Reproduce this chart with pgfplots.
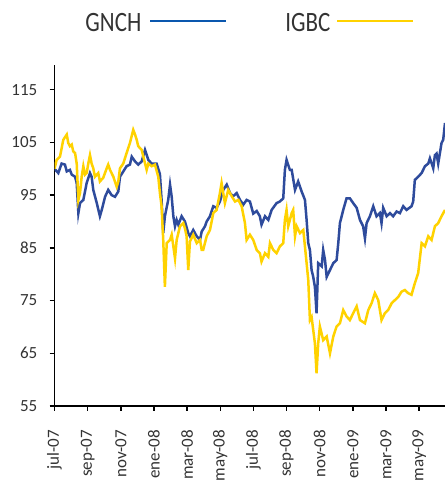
\documentclass[border=0pt]{standalone}
\usepackage{fontspec}
\setmainfont{Carlito}
\newfontfamily\legfont{Carlito}[FakeStretch=0.82]
\usepackage{pgfplots}
\pgfplotsset{compat=1.18}
\definecolor{gblue}{HTML}{2E4B9C}
\definecolor{lblue}{HTML}{0A57AE}
\definecolor{gyel}{HTML}{FFD200}
\definecolor{txt}{HTML}{333333}
\begin{document}
\begin{tikzpicture}[x=1bp,y=1bp]
\useasboundingbox (0,0) rectangle (445,488);
\begin{axis}[
  at={(54.5bp,82bp)}, anchor=south west,
  scale only axis, width=390.5bp, height=341bp,
  xmin=0, xmax=23.56, ymin=55, ymax=119.7,
  axis x line=bottom, axis y line=left,
  axis line style={-, line width=1.6bp, black},
  tick align=outside, major tick length=5bp,
  tick style={line width=1.4bp, black},
  ytick={55,65,75,85,95,105,115},
  xtick={0,2,4,6,8,10,12,14,16,18,20,22},
  xticklabels={jul-07,sep-07,nov-07,ene-08,mar-08,may-08,jul-08,sep-08,nov-08,ene-09,mar-09,may-09},
  xticklabel style={rotate=90, anchor=east, font=\fontsize{17bp}{17bp}\selectfont, text=txt, inner sep=0pt},
  yticklabel style={font=\fontsize{17bp}{17bp}\selectfont, text=txt, inner sep=0pt},
  xticklabel shift=19bp, yticklabel shift=12bp,
  /pgf/number format/assume math mode=true,
  clip=true,
]
\addplot[gblue, line width=2.5bp] coordinates {
(0,100) (0.23,99.2) (0.43,101) (0.63,100.8) (0.74,99.5) (0.93,99.8) (1.04,98.9) (1.24,98.5) (1.34,97.3) (1.44,91.6) (1.54,93.5) (1.74,94.1) (1.94,97.3) (2.14,99.2) (2.24,98.5) (2.34,96) (2.55,93.5) (2.74,91) (2.85,92.2) (3.05,94.7) (3.24,96) (3.45,95) (3.65,94.7) (3.85,95.7) (3.95,98.5) (4.15,99.5) (4.35,100.5) (4.55,100.8) (4.66,102.3) (4.86,101.4) (5.05,100.8) (5.26,101.4) (5.46,103.6) (5.66,101.7) (5.86,101) (6.16,101) (6.36,99) (6.46,94.1) (6.56,87.8) (6.66,91) (6.86,94.1) (6.97,97) (7.07,94.7) (7.17,91) (7.27,89.1) (7.37,90.3) (7.47,89.4) (7.67,91) (7.87,90) (8.07,87.8) (8.17,87.2) (8.37,88.4) (8.58,87.2) (8.78,86.5) (8.88,88.1) (9.08,89.1) (9.18,90) (9.38,91) (9.58,92.9) (9.78,92.6) (9.98,93.8) (10.18,96) (10.39,97) (10.59,95.4) (10.78,94.8) (10.99,95.4) (11.19,94.1) (11.39,93.2) (11.59,94.1) (11.79,93.8) (11.99,91.5) (12.2,92) (12.39,91) (12.49,89.4) (12.7,91) (12.9,90.3) (13.1,92.2) (13.4,93.5) (13.6,93.8) (13.8,94.4) (13.9,99.8) (14.0,101.7) (14.2,99.8) (14.31,99.8) (14.51,96) (14.7,97.6) (14.91,95.7) (15.11,94.1) (15.21,90.3) (15.31,85.9) (15.41,84.6) (15.51,80.8) (15.61,79.5) (15.71,77.6) (15.81,72.6) (15.91,82.1) (16.12,81.5) (16.21,84.6) (16.32,82.7) (16.42,79.5) (16.62,80.8) (16.82,82.1) (17.02,82.7) (17.12,85.9) (17.22,89.7) (17.42,92.2) (17.62,94.4) (17.82,94.4) (18.02,93.5) (18.23,92.6) (18.43,90.3) (18.62,89.1) (18.73,86.8) (18.83,89.7) (19.03,91) (19.23,92.9) (19.43,91) (19.63,91.6) (19.73,89.7) (19.83,92.6) (20.04,91) (20.24,91.6) (20.43,91) (20.64,91.9) (20.84,91.6) (21.04,92.9) (21.24,92.2) (21.54,92.9) (21.64,93.8) (21.74,97.9) (21.94,98.5) (22.15,99.2) (22.35,100.5) (22.55,101) (22.65,102) (22.85,100.1) (22.95,102.6) (23.05,102.9) (23.15,101) (23.35,104.9) (23.45,105.5) (23.56,108.7)
};
\addplot[gyel, line width=2.5bp] coordinates {
(0,100) (0.13,101.7) (0.33,102.3) (0.53,105.5) (0.74,106.5) (0.83,104.9) (0.93,104.3) (1.04,104.6) (1.13,103.3) (1.24,103) (1.34,101) (1.44,94.1) (1.54,95.4) (1.64,98.5) (1.74,100.5) (1.84,98.9) (1.94,99.2) (2.04,101) (2.14,102.6) (2.24,101) (2.34,100.1) (2.44,98.5) (2.64,99.2) (2.74,97.6) (2.94,98.3) (3.15,100.1) (3.24,100.8) (3.35,99.8) (3.55,98.5) (3.75,96.6) (3.85,97.6) (3.95,100.1) (4.15,101) (4.35,103) (4.55,104.9) (4.75,107.4) (4.86,106.5) (4.96,105.5) (5.05,104.3) (5.26,103.6) (5.36,102.3) (5.56,99.8) (5.66,101) (5.86,100.5) (6.06,100.8) (6.26,98.5) (6.36,95.4) (6.46,92.9) (6.56,86.5) (6.66,77.6) (6.77,85.9) (6.97,86.5) (7.07,87.5) (7.17,85.3) (7.27,83) (7.37,86.5) (7.57,89.1) (7.77,89.7) (7.87,88.7) (7.97,87.2) (8.07,80.8) (8.17,86.2) (8.37,87.5) (8.58,85.9) (8.78,86.5) (8.88,84.6) (8.97,84.6) (9.18,87.2) (9.38,88.4) (9.58,91.6) (9.78,92.2) (9.98,95.4) (10.08,97.3) (10.28,93.5) (10.48,96) (10.69,94.8) (10.89,93.8) (11.09,94.1) (11.29,92.9) (11.49,89.7) (11.59,86.5) (11.79,87.5) (11.99,86.5) (12.2,84.6) (12.39,84) (12.49,82.4) (12.7,84) (12.9,83.3) (13.0,85.9) (13.2,84.6) (13.4,84) (13.6,85.3) (13.8,85.9) (13.9,90.3) (14.0,92.2) (14.1,89.1) (14.31,91.6) (14.4,92.2) (14.51,87.2) (14.61,89.1) (14.81,87.8) (15.01,88.4) (15.21,82.1) (15.31,78.9) (15.41,71.3) (15.51,71.9) (15.61,69.4) (15.71,66.9) (15.81,61.2) (15.91,66.9) (16.01,70.1) (16.21,67.5) (16.42,68.2) (16.62,65) (16.82,68.2) (17.02,70.1) (17.22,70.7) (17.42,73.2) (17.62,72) (17.82,71.3) (18.02,72.6) (18.23,73.9) (18.43,71.3) (18.73,70.7) (18.93,73.2) (19.13,74.5) (19.33,76.4) (19.53,75.1) (19.73,71.3) (19.93,72.6) (20.13,73.2) (20.34,74.5) (20.54,75.1) (20.74,75.7) (20.94,76.7) (21.14,77) (21.34,76.4) (21.54,76.1) (21.74,78.3) (21.94,80.2) (22.15,85.9) (22.35,85.3) (22.55,87.2) (22.75,86.5) (22.95,89.1) (23.15,89.7) (23.35,91) (23.56,92.2)
};
\end{axis}
\node[anchor=base east, inner sep=0pt, text=txt, font=\legfont\fontsize{28bp}{28bp}\selectfont] at (141.5,456.5) {GNCH};
\draw[lblue, line width=2.2bp] (150,467) -- (226,467);
\node[anchor=base east, inner sep=0pt, text=txt, font=\legfont\fontsize{28bp}{28bp}\selectfont] at (330.5,456.5) {IGBC};
\draw[gyel, line width=2.2bp] (337,467) -- (413,467);
\end{tikzpicture}
\end{document}
